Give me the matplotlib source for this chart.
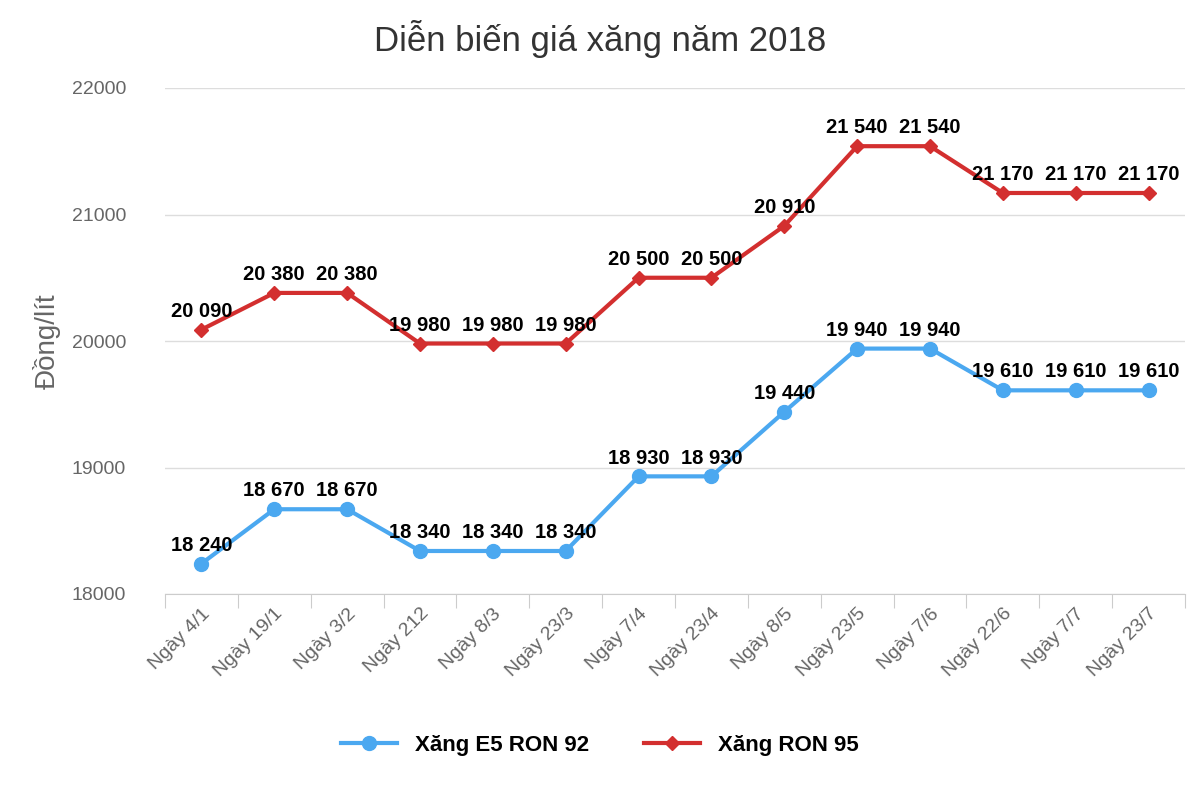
import matplotlib
matplotlib.use("Agg")
import matplotlib.pyplot as plt

categories = ["Ngày 4/1","Ngày 19/1","Ngày 3/2","Ngày 212","Ngày 8/3","Ngày 23/3","Ngày 7/4",
              "Ngày 23/4","Ngày 8/5","Ngày 23/5","Ngày 7/6","Ngày 22/6","Ngày 7/7","Ngày 23/7"]
e5 = [18240,18670,18670,18340,18340,18340,18930,18930,19440,19940,19940,19610,19610,19610]
ron95 = [20090,20380,20380,19980,19980,19980,20500,20500,20910,21540,21540,21170,21170,21170]

plt.rcParams["font.family"] = "Liberation Sans"
fig = plt.figure(figsize=(12, 8), dpi=100)
ax = fig.add_axes([0.1375, 0.2575, 0.85, 0.6325])
x = range(len(categories))
c1, c2 = "#4BA8F0", "#D32F2F"
ax.plot(x, e5, color=c1, lw=3, marker="o", ms=10, label="Xăng E5 RON 92", zorder=3)
ax.plot(x, ron95, color=c2, lw=3, marker="D", ms=7, label="Xăng RON 95", zorder=3)
fmt = lambda v: f"{v:,}".replace(",", " ")
for xi, v in zip(x, e5):
    ax.text(xi, v + 70, fmt(v), ha="center", va="bottom", fontsize=14.5, fontweight="bold")
for xi, v in zip(x, ron95):
    ax.text(xi, v + 70, fmt(v), ha="center", va="bottom", fontsize=14.5, fontweight="bold")
ax.set_xlim(-0.5, len(categories) - 0.5)
ax.set_ylim(18000, 22000)
ax.set_yticks([18000, 19000, 20000, 21000, 22000])
ax.set_xticks([i - 0.5 for i in range(len(categories) + 1)], minor=False)
ax.set_xticklabels([""] * (len(categories) + 1))
ax.set_xticks(list(x), minor=True)
ax.set_xticklabels(categories, minor=True, rotation=45, ha="right", rotation_mode="anchor",
                   fontsize=14, color="#666666")
ax.tick_params(axis="x", which="major", length=10, color="#cccccc")
ax.tick_params(axis="x", which="minor", length=0, pad=8)
ax.tick_params(axis="y", length=0, labelsize=14, labelcolor="#666666", pad=28)
ax.grid(axis="y", color="#dddddd", lw=1)
ax.set_axisbelow(True)
for s in ["top", "right", "left"]:
    ax.spines[s].set_visible(False)
ax.spines["bottom"].set_color("#cccccc")
ax.set_ylabel("Đồng/lít", fontsize=20, color="#666666", labelpad=8)
fig.suptitle("Diễn biến giá xăng năm 2018", fontsize=25, color="#333333", y=0.975)
fig.legend(loc="lower center", ncol=2, frameon=False, prop={"weight": "bold", "size": 16},
           bbox_to_anchor=(0.5, 0.03), handlelength=2.5, columnspacing=2.5)
fig.savefig("out.png")
